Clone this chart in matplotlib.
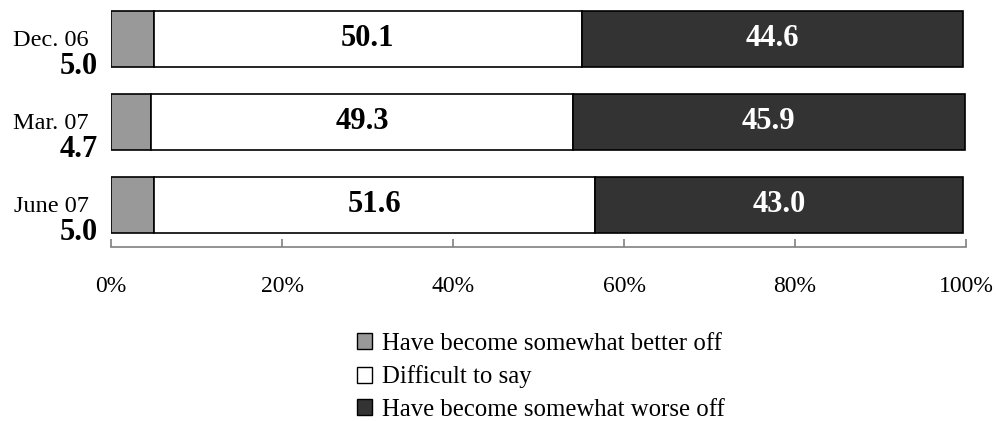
import matplotlib
matplotlib.use("Agg")
import matplotlib.pyplot as plt
from matplotlib.patches import Patch

plt.rcParams['font.family'] = ['Liberation Serif', 'DejaVu Serif']

categories = ["Dec. 06", "Mar. 07", "June 07"]
better = [5.0, 4.7, 5.0]
difficult = [50.1, 49.3, 51.6]
worse = [44.6, 45.9, 43.0]
series_names = ["Have become somewhat better off", "Difficult to say",
                "Have become somewhat worse off"]
tick_vals = [0, 20, 40, 60, 80, 100]
tick_labels = ["0%", "20%", "40%", "60%", "80%", "100%"]

colors = ["#999999", "#ffffff", "#333333"]

fig = plt.figure(figsize=(9.99, 4.21), dpi=100)
ax = fig.add_axes([111/999, 1-247/421, (966-111)/999, (247-1.6)/421])

y = list(range(len(categories)))
h = 0.675
left = [0]*len(y)
for vals, c in zip([better, difficult, worse], colors):
    ax.barh(y, vals, left=left, height=h, color=c, edgecolor="black", linewidth=1.2)
    left = [l + v for l, v in zip(left, vals)]

for i in y:
    ax.text(better[i] + difficult[i]/2, i, f"{difficult[i]:.1f}", ha="center", va="center",
            fontsize=22, fontweight="bold", color="black")
    ax.text(better[i] + difficult[i] + worse[i]/2, i, f"{worse[i]:.1f}", ha="center", va="center",
            fontsize=22, fontweight="bold", color="white")
    ax.text(-2.6, i + 0.02, categories[i], ha="right", va="center", fontsize=17.5)
    ax.text(-1.5, i + 0.33, f"{better[i]:.1f}", ha="right", va="center", fontsize=22,
            fontweight="bold")

ax.set_xlim(0, 100)
ax.set_ylim(2.506, -0.45)
ax.set_yticks([])
for s in ["left", "right", "top"]:
    ax.spines[s].set_visible(False)
ax.spines["bottom"].set_color("#808080")
ax.spines["bottom"].set_linewidth(1.2)
ax.set_xticks(tick_vals)
ax.set_xticklabels(tick_labels, fontsize=17)
ax.tick_params(axis="x", direction="in", length=6, color="#808080", width=1.2, pad=21)
ax.set_facecolor("none")

handles = [Patch(facecolor=c, edgecolor="black", linewidth=1) for c in colors]
fig.legend(handles, series_names, loc="upper left", bbox_to_anchor=(357/999, 1-333/421),
           frameon=False, fontsize=17.8, handlelength=0.6, handleheight=0.6,
           handletextpad=0.4, labelspacing=0.42, borderaxespad=0, borderpad=0)

fig.savefig("out.png", dpi=100)
